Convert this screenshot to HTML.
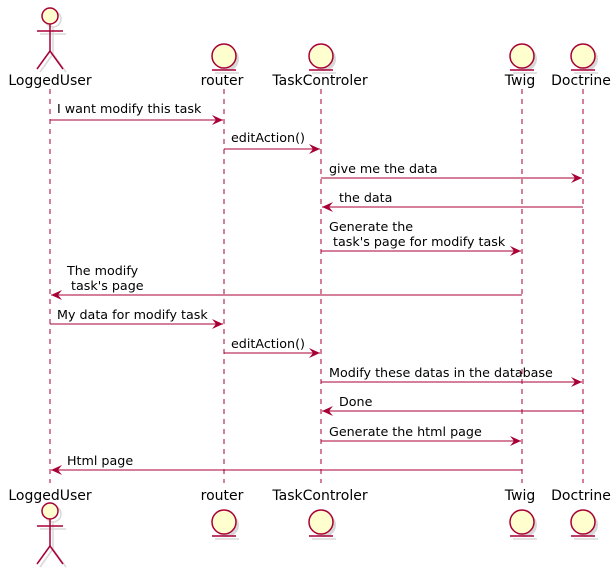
<!DOCTYPE html>
<html><head><style>body{margin:0;background:#fff}svg{display:block}text{font-family:"DejaVu Sans","Liberation Sans",sans-serif;font-size:12.7px;fill:#000;white-space:pre}text.p{font-size:14px}</style></head><body>
<svg width="616" height="569" xmlns="http://www.w3.org/2000/svg">
<defs>
<marker id="a" markerWidth="12" markerHeight="10" refX="11" refY="5" orient="auto" markerUnits="userSpaceOnUse"><path d="M0,0 L11,5 L0,10 L4,5 Z" fill="#A80036"/></marker>
<g id="ent"><circle cx="3" cy="3" r="12" fill="#d8d8d8"/><line x1="-9" y1="17" x2="15" y2="17" stroke="#d8d8d8" stroke-width="1.5"/><circle cx="0" cy="0" r="12" fill="#FEFECE" stroke="#A80036" stroke-width="1.5"/><line x1="-12" y1="14" x2="12" y2="14" stroke="#A80036" stroke-width="1.5"/></g>
<g id="act" fill="none" stroke-width="1.5"><g stroke="#d8d8d8" transform="translate(3,3)"><line x1="0" y1="8" x2="0" y2="35"/><line x1="-13" y1="15" x2="13" y2="15"/><line x1="0" y1="35" x2="-13" y2="53"/><line x1="0" y1="35" x2="13" y2="53"/><circle cx="0" cy="0" r="8"/></g><g stroke="#A80036"><circle cx="0" cy="0" r="8" fill="#FEFECE"/><line x1="0" y1="8" x2="0" y2="35"/><line x1="-13" y1="15" x2="13" y2="15"/><line x1="0" y1="35" x2="-13" y2="53"/><line x1="0" y1="35" x2="13" y2="53"/></g></g>
</defs>
<g stroke="#A80036" stroke-dasharray="5,5" stroke-width="1">
<line x1="50" y1="89" x2="50" y2="483"/><line x1="224" y1="89" x2="224" y2="483"/><line x1="321" y1="89" x2="321" y2="483"/><line x1="522" y1="89" x2="522" y2="483"/><line x1="583" y1="89" x2="583" y2="483"/>
</g>
<use href="#act" x="50" y="16"/><use href="#act" x="50" y="511"/>
<use href="#ent" x="224" y="56"/><use href="#ent" x="321" y="56"/><use href="#ent" x="522" y="56"/><use href="#ent" x="583" y="56"/>
<use href="#ent" x="224" y="522"/><use href="#ent" x="321" y="522"/><use href="#ent" x="522" y="522"/><use href="#ent" x="583" y="522"/>
<g text-anchor="middle">
<text class="p" x="50" y="85">LoggedUser</text><text class="p" x="222" y="85">router</text><text class="p" x="320" y="85">TaskControler</text><text class="p" x="520" y="85">Twig</text><text class="p" x="581" y="85">Doctrine</text>
<text class="p" x="50" y="500">LoggedUser</text><text class="p" x="222" y="500">router</text><text class="p" x="320" y="500">TaskControler</text><text class="p" x="520" y="500">Twig</text><text class="p" x="581" y="500">Doctrine</text>
</g>
<g stroke="#A80036" stroke-width="1" marker-end="url(#a)">
<line x1="50" y1="120" x2="223" y2="120"/>
<line x1="224" y1="149" x2="320" y2="149"/>
<line x1="321" y1="178" x2="582" y2="178"/>
<line x1="583" y1="207" x2="322" y2="207"/>
<line x1="321" y1="251" x2="521" y2="251"/>
<line x1="522" y1="295" x2="51" y2="295"/>
<line x1="50" y1="324" x2="223" y2="324"/>
<line x1="224" y1="353" x2="320" y2="353"/>
<line x1="321" y1="382" x2="582" y2="382"/>
<line x1="583" y1="411" x2="322" y2="411"/>
<line x1="321" y1="441" x2="521" y2="441"/>
<line x1="522" y1="470" x2="51" y2="470"/>
</g>
<text x="57" y="113">I want modify this task</text>
<text x="231" y="142">editAction()</text>
<text x="329" y="173">give me the data</text>
<text x="339" y="202">the data</text>
<text x="329" y="231">Generate the</text>
<text x="329" y="246"> task's page for modify task</text>
<text x="67" y="275">The modify</text>
<text x="67" y="290"> task's page</text>
<text x="57" y="319">My data for modify task</text>
<text x="231" y="348">editAction()</text>
<text x="329" y="377">Modify these datas in the database</text>
<text x="339" y="406">Done</text>
<text x="329" y="436">Generate the html page</text>
<text x="67" y="465">Html page</text>
</svg>
</body></html>
